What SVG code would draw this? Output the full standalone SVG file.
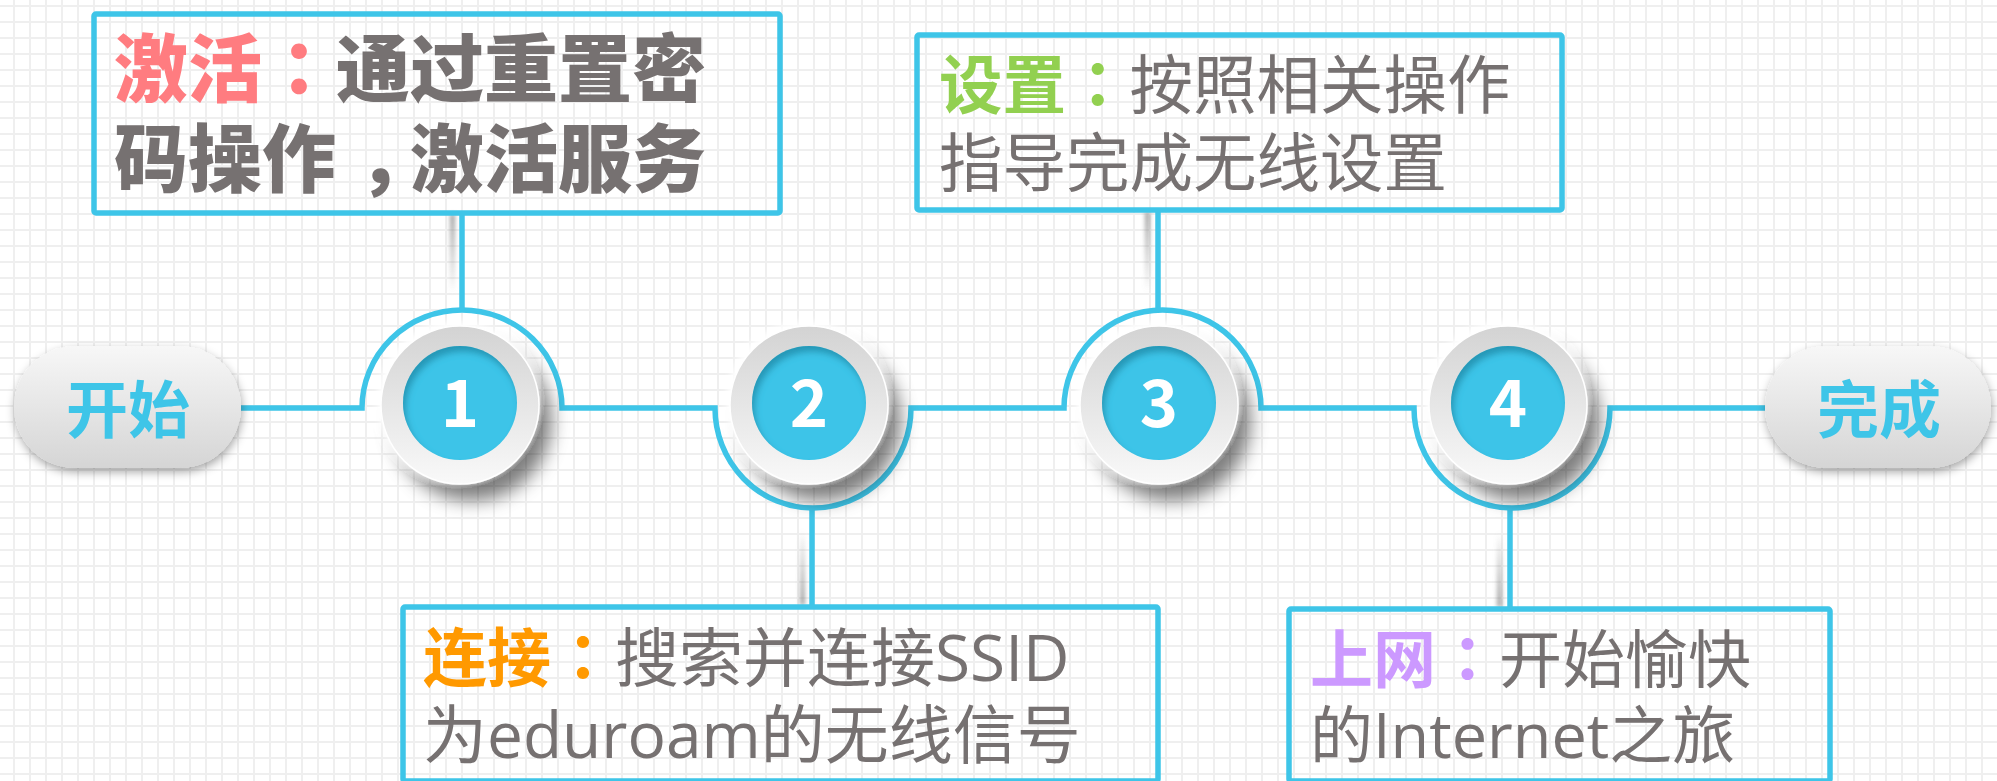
<svg xmlns="http://www.w3.org/2000/svg" width="1997" height="781" viewBox="0 0 1997 781">
  <defs>
    <pattern id="grid" width="16" height="16" patternUnits="userSpaceOnUse">
      <rect width="16" height="16" fill="#ffffff"/>
      <rect x="13" y="0" width="2" height="16" fill="#efefef"/>
      <rect x="0" y="5" width="16" height="2" fill="#efefef"/>
    </pattern>
    <linearGradient id="pillGrad" x1="0" y1="0" x2="0" y2="1">
      <stop offset="0" stop-color="#f7f7f7"/>
      <stop offset="1" stop-color="#d5d5d5"/>
    </linearGradient>
    <linearGradient id="ringGrad" x1="0" y1="0" x2="0" y2="1">
      <stop offset="0" stop-color="#d3d3d3"/>
      <stop offset="1" stop-color="#f9f9f9"/>
    </linearGradient>
    <linearGradient id="shDown" x1="0" y1="0" x2="0" y2="1">
      <stop offset="0" stop-color="#8a8a8a" stop-opacity="0.8"/>
      <stop offset="1" stop-color="#8a8a8a" stop-opacity="0"/>
    </linearGradient>
    <linearGradient id="shUp" x1="0" y1="1" x2="0" y2="0">
      <stop offset="0" stop-color="#8a8a8a" stop-opacity="0.8"/>
      <stop offset="1" stop-color="#8a8a8a" stop-opacity="0"/>
    </linearGradient>
    <filter id="pillShadow" x="-20%" y="-30%" width="140%" height="170%">
      <feDropShadow dx="1" dy="4" stdDeviation="5" flood-color="#000" flood-opacity="0.35"/>
    </filter>
    <filter id="ringShadow" x="-40%" y="-40%" width="190%" height="190%">
      <feGaussianBlur in="SourceAlpha" stdDeviation="9"/>
      <feOffset dx="12" dy="16" result="b"/>
      <feFlood flood-color="#000" flood-opacity="0.5"/>
      <feComposite in2="b" operator="in" result="sh"/>
      <feGaussianBlur in="SourceAlpha" stdDeviation="3"/>
      <feOffset dx="-3" dy="-4" result="w"/>
      <feFlood flood-color="#ffffff" flood-opacity="0.95"/>
      <feComposite in2="w" operator="in" result="hl"/>
      <feMerge>
        <feMergeNode in="sh"/>
        <feMergeNode in="hl"/>
        <feMergeNode in="SourceGraphic"/>
      </feMerge>
    </filter>
    <filter id="inner" x="-10%" y="-10%" width="120%" height="120%">
      <feFlood flood-color="#0b5f7a" flood-opacity="0.55" result="c"/>
      <feComposite in="c" in2="SourceAlpha" operator="out" result="inv"/>
      <feOffset in="inv" dx="3" dy="6"/>
      <feGaussianBlur stdDeviation="3" result="s"/>
      <feComposite in="s" in2="SourceAlpha" operator="in" result="is"/>
      <feMerge>
        <feMergeNode in="SourceGraphic"/>
        <feMergeNode in="is"/>
      </feMerge>
    </filter>
    <filter id="soft" x="-200%" y="-10%" width="500%" height="120%">
      <feGaussianBlur stdDeviation="2"/>
    </filter>
  </defs>
  <style>
    .line { fill: none; stroke: #3ec5e8; stroke-width: 5.5; }
    .box { fill: none; stroke: #3ec5e8; stroke-width: 5.5; }
    .pill { fill: url(#pillGrad); filter: url(#pillShadow); }
    .pilltxt { font-family: "Noto Sans CJK SC", sans-serif; font-weight: 700; font-size: 62px; fill: #3ec5e8; text-anchor: middle; }
    .ring { fill: url(#ringGrad); stroke: #ffffff; stroke-width: 1.5; filter: url(#ringShadow); }
    .core { fill: #3cc4e8; filter: url(#inner); }
    .num { font-family: "Noto Sans CJK SC", sans-serif; font-weight: 700; font-size: 65px; fill: #ffffff; text-anchor: middle; }
    .t1 { font-family: "Noto Sans CJK SC", sans-serif; font-weight: 900; font-size: 74px; fill: #767171; }
    .t2 { font-family: "Open Sans", "Noto Sans CJK SC", sans-serif; font-weight: 400; fill: #767171; }
    .hd { font-family: "Noto Sans CJK SC", sans-serif; font-weight: 700; }
    .pc { font-family: "Noto Sans CJK TC", sans-serif; }
  </style>

  <rect width="1997" height="781" fill="url(#grid)"/>

  <g id="connectors">
    <rect x="450" y="214" width="5" height="80" fill="url(#shDown)" filter="url(#soft)"/>
    <rect x="1145" y="212" width="5" height="80" fill="url(#shDown)" filter="url(#soft)"/>
    <rect x="800" y="530" width="5" height="75" fill="url(#shUp)" filter="url(#soft)"/>
    <rect x="1497" y="532" width="5" height="75" fill="url(#shUp)" filter="url(#soft)"/>
    <path class="line" d="M241,408 H362 A100,98 0 0 1 562,408 H715 A98,100 0 0 0 911,408 H1064 A98.5,98 0 0 1 1261,408 H1414 A98,100 0 0 0 1610,408 H1765"/>
    <path class="line" d="M462,213 V310"/>
    <path class="line" d="M812,508 V607"/>
    <path class="line" d="M1158,210 V310"/>
    <path class="line" d="M1510,508 V609"/>
  </g>

  <g id="node-start">
    <rect class="pill" x="14" y="346" width="227" height="122" rx="61"/>
    <text class="pilltxt" x="128" y="433">开始</text>
  </g>

  <g id="node-1">
    <circle class="ring" cx="460" cy="405" r="79"/>
    <circle class="core" cx="460" cy="403" r="57"/>
    <text class="num" x="460" y="427">1</text>
  </g>
  <g id="node-2">
    <circle class="ring" cx="809" cy="405" r="79"/>
    <circle class="core" cx="809" cy="403" r="57"/>
    <text class="num" x="809" y="427">2</text>
  </g>
  <g id="node-3">
    <circle class="ring" cx="1159" cy="405" r="79"/>
    <circle class="core" cx="1159" cy="403" r="57"/>
    <text class="num" x="1159" y="427">3</text>
  </g>
  <g id="node-4">
    <circle class="ring" cx="1508" cy="405" r="79"/>
    <circle class="core" cx="1508" cy="403" r="57"/>
    <text class="num" x="1508" y="427">4</text>
  </g>

  <g id="node-end">
    <rect class="pill" x="1765" y="346" width="226" height="122" rx="61"/>
    <text class="pilltxt" x="1879" y="433">完成</text>
  </g>

  <g id="box-1">
    <rect class="box" x="94" y="14" width="686" height="199" rx="2"/>
    <text class="t1" x="114" y="96"><tspan fill="#ff7c80">激活</tspan><tspan class="pc" fill="#ff7c80">：</tspan>通过重置密</text>
    <text class="t1" x="114" y="186">码操作<tspan dx="22">，</tspan><tspan dx="-22">激活服务</tspan></text>
  </g>

  <g id="box-2">
    <rect class="box" x="403" y="607" width="755" height="174" rx="2"/>
    <text class="t2" x="423" y="681" font-size="64"><tspan class="hd" fill="#ff9900">连接</tspan><tspan class="hd pc" fill="#ff9900">：</tspan>搜索并连接SSID</text>
    <text class="t2" x="423" y="758" font-size="64">为eduroam的无线信号</text>
  </g>

  <g id="box-3">
    <rect class="box" x="917" y="35" width="645" height="175" rx="2"/>
    <text class="t2" x="939" y="108" font-size="63.5"><tspan class="hd" fill="#92d050">设置</tspan><tspan class="hd pc" fill="#92d050">：</tspan>按照相关操作</text>
    <text class="t2" x="939" y="186" font-size="63.5">指导完成无线设置</text>
  </g>

  <g id="box-4">
    <rect class="box" x="1289" y="609" width="541" height="172" rx="2"/>
    <text class="t2" x="1310" y="682" font-size="63"><tspan class="hd" fill="#cc99ff">上网</tspan><tspan class="hd pc" fill="#cc99ff">：</tspan>开始愉快</text>
    <text class="t2" x="1310" y="758" font-size="63">的Internet之旅</text>
  </g>
</svg>
